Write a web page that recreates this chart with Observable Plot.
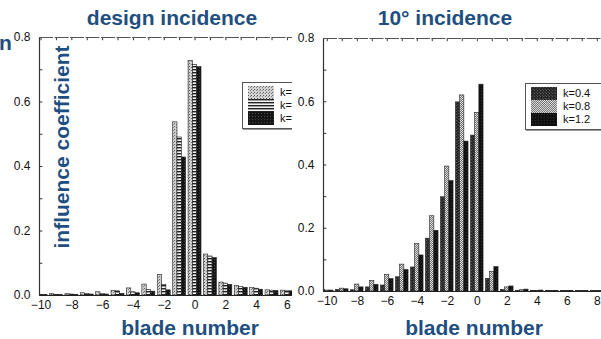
<!DOCTYPE html>
<html>
<head>
<meta charset="utf-8">
<script src="https://cdn.jsdelivr.net/npm/d3@7"></script>
<script src="https://cdn.jsdelivr.net/npm/@observablehq/plot@0.6"></script>
<style>
  html, body { margin: 0; padding: 0; background: #fff; }
  #root { position: relative; width: 601px; height: 339px; overflow: hidden; background: #fff; font-family: "Liberation Sans", Arial, sans-serif; }
  .panel { position: absolute; top: 0; height: 339px; overflow: hidden; }
  .panel > svg { position: absolute; left: 0; top: 0; max-width: none !important; height: 339px !important; }
  .legend { position: absolute; background: #fff; border: 1px solid #555; box-shadow: 1px 1px 0 #999; }
  .legend .row { display: flex; align-items: center; height: 13px; }
  .legend .lab { font-size: 11px; color: #111; margin-left: 6px; line-height: 13px; }
  .ttl { position: absolute; color: #1f4e80; font-family: "Liberation Sans", Arial, sans-serif; font-weight: bold; white-space: nowrap; }
</style>
</head>
<body>
<svg width="0" height="0" style="position:absolute">
  <defs>
    <pattern id="pL1" width="3" height="3" patternUnits="userSpaceOnUse">
      <rect width="3" height="3" fill="#cfcfcf"/><rect width="1" height="1" fill="#666"/><rect x="2" y="1" width="1" height="1" fill="#888"/>
    </pattern>
    <pattern id="pL2" width="4" height="3" patternUnits="userSpaceOnUse">
      <rect width="4" height="3" fill="#f2f2f2"/><rect width="4" height="1.4" fill="#222"/>
    </pattern>
    <pattern id="pL3" width="3" height="3" patternUnits="userSpaceOnUse">
      <rect width="3" height="3" fill="#151515"/><rect x="1" y="1" width="1" height="1" fill="#444"/>
    </pattern>
    <pattern id="pR1" width="3" height="3" patternUnits="userSpaceOnUse">
      <rect width="3" height="3" fill="#2a2a2a"/><rect width="1" height="1" fill="#555"/><rect x="2" y="2" width="1" height="1" fill="#4a4a4a"/>
    </pattern>
    <pattern id="pR2" width="2" height="2" patternUnits="userSpaceOnUse">
      <rect width="2" height="2" fill="#d8d8d8"/><rect width="1" height="1" fill="#777"/><rect x="1" y="1" width="1" height="1" fill="#777"/>
    </pattern>
    <pattern id="pR3" width="3" height="3" patternUnits="userSpaceOnUse">
      <rect width="3" height="3" fill="#111"/><rect x="1" y="1" width="1" height="1" fill="#2c2c2c"/>
    </pattern>
  </defs>
</svg>
<div id="root"></div>
<script>
// ---------- data ----------
const blades = [-10,-9,-8,-7,-6,-5,-4,-3,-2,-1,0,1,2,3,4,5,6,7,8];
const seriesNames = ["k=0.4","k=0.8","k=1.2"];
// design incidence
const design_k04 = [0.003,0.004,0.004,0.007,0.010,0.014,0.022,0.034,0.064,0.537,0.727,0.127,0.040,0.029,0.023,0.016,0.015,0.012,0.010];
const design_k08 = [0.002,0.002,0.003,0.005,0.005,0.013,0.010,0.017,0.033,0.490,0.715,0.121,0.037,0.026,0.021,0.015,0.013,0.011,0.009];
const design_k12 = [0.001,0.001,0.002,0.003,0.003,0.005,0.007,0.012,0.016,0.428,0.708,0.116,0.033,0.024,0.018,0.014,0.013,0.010,0.009];
// 10 degree incidence
const inc10_k04 = [0.005,0.005,0.004,0.013,0.019,0.045,0.076,0.167,0.298,0.598,0.493,0.040,0.005,0.001,0.002,0.002,0.001,0.001,0.001];
const inc10_k08 = [0.003,0.009,0.022,0.033,0.053,0.085,0.150,0.238,0.395,0.620,0.565,0.062,0.013,0.004,0.002,0.002,0.001,0.001,0.001];
const inc10_k12 = [0.003,0.007,0.013,0.021,0.039,0.068,0.114,0.192,0.349,0.474,0.654,0.077,0.016,0.006,0.003,0.002,0.002,0.001,0.001];
const xTicksDesign = [-10,-8,-6,-4,-2,0,2,4,6];
const xTicksInc10 = [-10,-8,-6,-4,-2,0,2,4,6,8];
const yTickLabels = [0.0,0.2,0.4,0.6,0.8];
const yMinorTicks = [0.1,0.2,0.3,0.4,0.5,0.6,0.7];
const titles = ["design incidence","10° incidence"];
const xLabel = "blade number";
const yLabel = "influence coefficient";

const barW = 0.28;
function rows(values, i) {
  return blades.map((b, j) => ({b, v: values[j], x1: b - 1.5*barW + i*barW, x2: b - 0.5*barW + i*barW}));
}
const fmtX = d => d < 0 ? "\u2212" + Math.abs(d) : String(d);

function panel({series, fills, xTicks, marginLeft, width, domain, pxPerUnit, marginTop, marginBottom}) {
  const marks = [];
  series.forEach((s, i) => {
    marks.push(Plot.rectY(rows(s, i), {x1: "x1", x2: "x2", y: "v", fill: fills[i], stroke: "#222", strokeWidth: 0.6, clip: true}));
  });
  marks.push(
    Plot.ruleX(blades.filter(b => b >= domain[0] && b <= domain[1]), {x: d => d, y1: 0.8, y2: 0.79, stroke: "#333", strokeWidth: 1}),
    Plot.ruleY(yMinorTicks, {y: d => d, x1: domain[0], x2: domain[0] + 0.22, stroke: "#333", strokeWidth: 1}),
    Plot.ruleY([0], {stroke: "#222", strokeWidth: 1.2}),
    Plot.ruleX([domain[0]], {stroke: "#333", strokeWidth: 1.2}),
    Plot.ruleY([0.8], {stroke: "#555", strokeWidth: 1, strokeDasharray: "14,1.5"}),
    Plot.axisX({ticks: xTicks, tickSize: 0, tickPadding: 5, tickFormat: fmtX, fontSize: 12, fill: "#111", label: null}),
    Plot.axisY({ticks: yTickLabels, tickSize: 0, tickPadding: 9, tickFormat: d3.format(".1f"), fontSize: 12, fill: "#111", label: null})
  );
  return Plot.plot({
    width, height: 339, marginLeft, marginRight: width - marginLeft - (domain[1]-domain[0])*pxPerUnit, marginTop, marginBottom,
    x: {domain}, y: {domain: [0, 0.8]},
    style: {fontFamily: "'Liberation Sans', Arial, sans-serif", background: "transparent", color: "#111"},
    marks
  });
}

const root = document.getElementById("root");

// left panel
const left = document.createElement("div");
left.className = "panel"; left.style.left = "0px"; left.style.width = "292px";
left.appendChild(panel({series: [design_k04, design_k08, design_k12], fills: ["url(#pL1)","url(#pL2)","url(#pL3)"], xTicks: xTicksDesign,
  marginLeft: 39, width: 340, domain: [-10.1, 8.5], pxPerUnit: 15.4, marginTop: 37, marginBottom: 44}));
root.appendChild(left);

// right panel
const right = document.createElement("div");
right.className = "panel"; right.style.left = "297px"; right.style.width = "304px";
right.appendChild(panel({series: [inc10_k04, inc10_k08, inc10_k12], fills: ["url(#pR1)","url(#pR2)","url(#pR3)"], xTicks: xTicksInc10,
  marginLeft: 26, width: 330, domain: [-10.25, 8.7], pxPerUnit: 15, marginTop: 38, marginBottom: 48}));
root.appendChild(right);

function legend(container, fills, left, top, width) {
  const lg = document.createElement("div");
  lg.className = "legend";
  lg.style.left = left + "px"; lg.style.top = top + "px"; lg.style.width = width + "px";
  lg.style.padding = "3px 0 3px 5px";
  seriesNames.forEach((name, i) => {
    const r = document.createElement("div"); r.className = "row";
    r.innerHTML = `<svg width="26" height="13" style="display:block"><rect width="26" height="13" fill="${fills[i]}"/></svg><span class="lab">${name}</span>`;
    lg.appendChild(r);
  });
  container.appendChild(lg);
}
legend(left, ["url(#pL1)","url(#pL2)","url(#pL3)"], 242, 82, 70);
legend(right, ["url(#pR1)","url(#pR2)","url(#pR3)"], 228, 83, 70);

function title(text, cx, top, size) {
  const t = document.createElement("div");
  t.className = "ttl"; t.textContent = text;
  t.style.fontSize = size + "px"; t.style.top = top + "px";
  t.style.left = cx + "px"; t.style.transform = "translateX(-50%)";
  root.appendChild(t);
  return t;
}
title(titles[0], 172, 6, 21);
title(titles[1], 445, 6, 21);
title(xLabel, 190, 316, 21);
title(xLabel, 474, 316, 21);
const yl = document.createElement("div");
yl.className = "ttl"; yl.textContent = yLabel; yl.style.fontSize = "21px";
yl.style.left = "62px"; yl.style.top = "147px";
yl.style.transform = "translate(-50%, -50%) rotate(-90deg)";
root.appendChild(yl);
const frag = document.createElement("div");
frag.className = "ttl"; frag.textContent = "n"; frag.style.fontSize = "21px";
frag.style.left = "-1px"; frag.style.top = "31px";
root.appendChild(frag);
</script>
</body>
</html>
